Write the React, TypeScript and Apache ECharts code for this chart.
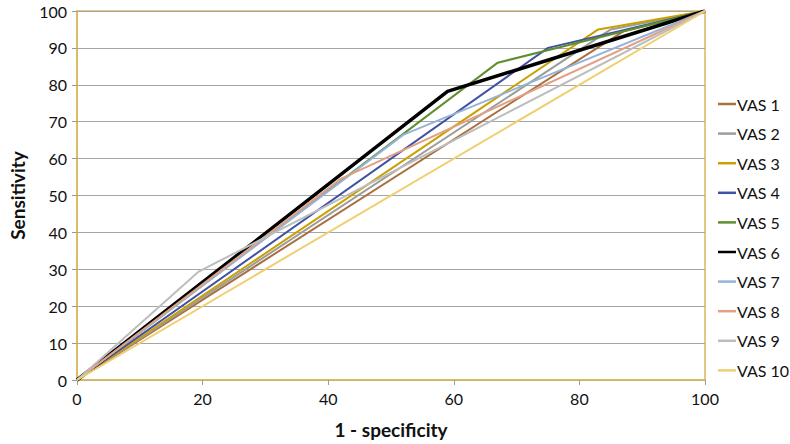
import React, { useEffect, useRef } from "react";
import * as echarts from "echarts";

const seriesNames = ["VAS 1", "VAS 2", "VAS 3", "VAS 4", "VAS 5", "VAS 6", "VAS 7", "VAS 8", "VAS 9", "VAS 10"];
const vas1X = [0, 87, 100];
const vas1Y = [0, 94.5, 100];
const vas2X = [0, 85, 100];
const vas2Y = [0, 95, 100];
const vas3X = [0, 83, 100];
const vas3Y = [0, 95, 100];
const vas4X = [0, 75, 100];
const vas4Y = [0, 90, 100];
const vas5X = [0, 67, 100];
const vas5Y = [0, 86, 100];
const vas6X = [0, 59, 100];
const vas6Y = [0, 78.2, 100];
const vas7X = [0, 52, 100];
const vas7Y = [0, 66.5, 100];
const vas8X = [0, 42, 100];
const vas8Y = [0, 54.5, 100];
const vas9X = [0, 19.3, 100];
const vas9Y = [0, 29.3, 100];
const vas10X = [0, 100];
const vas10Y = [0, 100];
const xTicks = [0, 20, 40, 60, 80, 100];
const yTicks = [0, 10, 20, 30, 40, 50, 60, 70, 80, 90, 100];

const allX = [vas1X, vas2X, vas3X, vas4X, vas5X, vas6X, vas7X, vas8X, vas9X, vas10X];
const allY = [vas1Y, vas2Y, vas3Y, vas4Y, vas5Y, vas6Y, vas7Y, vas8Y, vas9Y, vas10Y];
const colors = ["#A8703F", "#9C9C9C", "#C9A000", "#3F51A3", "#5E8F2E", "#000000", "#95B3D7", "#E2A085", "#BDBDBD", "#F0CF72"];
const widths = [2, 2, 2, 2, 2, 3.5, 2, 2, 2, 2];

const FONT = "Lato, 'Open Sans', sans-serif";

export default function App() {
  const ref = useRef<HTMLDivElement>(null);
  useEffect(() => {
    if (!ref.current) return;
    const chart = echarts.init(ref.current, undefined, { renderer: "svg" });
    chart.setOption({
      animation: false,
      backgroundColor: "#ffffff",
      textStyle: { fontFamily: FONT },
      grid: {
        left: 71,
        right: 85,
        top: 11,
        bottom: 63,
        show: true,
        borderColor: "#D8B85C",
        borderWidth: 1.5,
        backgroundColor: "transparent",
      },
      legend: {
        orient: "vertical",
        left: 713,
        top: 91,
        icon: "rect",
        itemWidth: 18,
        itemHeight: 2.5,
        itemGap: 13.6,
        data: seriesNames,
        textStyle: { fontSize: 16, color: "#111", fontFamily: FONT, padding: [0, 0, 0, -4] },
      },
      xAxis: {
        type: "value",
        min: xTicks[0],
        max: xTicks[xTicks.length - 1],
        interval: 20,
        name: "1 - specificity",
        nameLocation: "middle",
        nameGap: 40,
        nameTextStyle: { fontSize: 19, fontWeight: "bold", color: "#111", fontFamily: FONT },
        axisLine: { lineStyle: { color: "#D8B85C", width: 1.5 } },
        axisTick: { show: true, length: 5, lineStyle: { color: "#9A9A9A" } },
        axisLabel: { fontSize: 16, color: "#111", margin: 10, fontFamily: FONT },
        splitLine: { show: false },
      },
      yAxis: {
        type: "value",
        min: yTicks[0],
        max: yTicks[yTicks.length - 1],
        interval: 10,
        name: "Sensitivity",
        nameLocation: "middle",
        nameGap: 50,
        nameTextStyle: { fontSize: 19, fontWeight: "bold", color: "#111", fontFamily: FONT },
        axisLine: { show: true, lineStyle: { color: "#D8B85C", width: 1.5 } },
        axisTick: { show: true, length: 5, lineStyle: { color: "#9A9A9A" } },
        axisLabel: { fontSize: 16, color: "#111", margin: 10, fontFamily: FONT },
        splitLine: { show: true, lineStyle: { color: "#A6A6A6", width: 1 } },
      },
      series: seriesNames.map((name, i) => ({
        name,
        type: "line",
        symbol: "none",
        smooth: false,
        data: allX[i].map((x, j) => [x, allY[i][j]]),
        lineStyle: { color: colors[i], width: widths[i] },
        itemStyle: { color: colors[i] },
      })),
    });
    return () => chart.dispose();
  }, []);
  return <div ref={ref} style={{ width: 790, height: 444, position: "absolute", left: 0, top: 0 }} />;
}
